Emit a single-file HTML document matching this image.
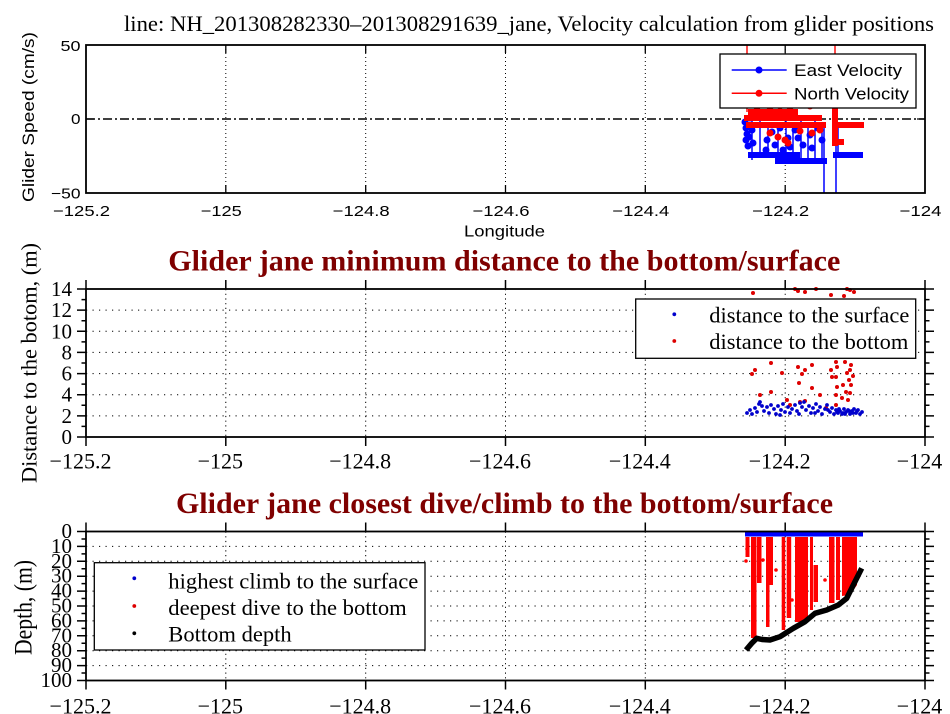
<!DOCTYPE html>
<html><head><meta charset="utf-8"><style>html,body{margin:0;padding:0;background:#fff}svg{display:block}</style></head>
<body>
<svg xmlns="http://www.w3.org/2000/svg" width="950" height="714" viewBox="0 0 950 714">
<rect width="950" height="714" fill="#fff"/>
<text x="124" y="31" font-family="Liberation Serif, serif" font-size="22" textLength="810" lengthAdjust="spacingAndGlyphs">line: NH_201308282330–201308291639_jane, Velocity calculation from glider positions</text>

<!-- ============ TOP PANEL ============ -->
<g stroke="#000" stroke-width="1" stroke-dasharray="1,3" fill="none">
<path d="M225.8 45V193M365.7 45V193M505.5 45V193M645.3 45V193M785.2 45V193"/>
</g>
<line x1="86" y1="119" x2="925" y2="119" stroke="#000" stroke-width="1.5" stroke-dasharray="9,3,2,3"/>
<!-- blue data -->
<g stroke="#0000ff" fill="#0000ff">
<path d="M748 155H800M775 161H827M833 155H863" stroke-width="6" fill="none"/>
<path d="M752 120V160M760 120V158M768 125V158M778 122V162M786 120V162M793 125V162M801 118V162M808 122V162M815 120V162M822 125V162M824 125V193M836 110V193M838 125V155" stroke-width="1.5" fill="none"/>
<g stroke="none">
<circle cx="745" cy="122" r="3.5"/><circle cx="746" cy="128" r="3.5"/><circle cx="747" cy="134" r="3.5"/><circle cx="746" cy="140" r="3.5"/><circle cx="748" cy="146" r="3.5"/><circle cx="750" cy="125" r="3.5"/><circle cx="749" cy="137" r="3.5"/><circle cx="752" cy="130" r="3.5"/><circle cx="753" cy="143" r="3.5"/><circle cx="767" cy="140" r="3.5"/><circle cx="772" cy="132" r="3.5"/><circle cx="780" cy="128" r="3.5"/><circle cx="788" cy="138" r="3.5"/><circle cx="795" cy="130" r="3.5"/><circle cx="803" cy="145" r="3.5"/><circle cx="810" cy="135" r="3.5"/><circle cx="818" cy="128" r="3.5"/><circle cx="822" cy="140" r="3.5"/><circle cx="790" cy="147" r="3.5"/><circle cx="775" cy="145" r="3.5"/><circle cx="798" cy="138" r="3.5"/><circle cx="766" cy="150" r="3.5"/><circle cx="783" cy="150" r="3.5"/><circle cx="812" cy="148" r="3.5"/>
</g>
</g>
<!-- red data -->
<g stroke="#ff0000" fill="#ff0000">
<path d="M748 112H798M744 118H822M746 125H826M836 125H864M833 142H844" stroke-width="6" fill="none"/>
<path d="M835 45V145M747 45V112" stroke-width="1.4" fill="none"/>
<path d="M835 108V146" stroke-width="6" fill="none"/>
<g stroke="none">
<circle cx="780" cy="106" r="3.5"/><circle cx="790" cy="107" r="3.5"/><circle cx="770" cy="107" r="3.5"/><circle cx="810" cy="106" r="3.5"/><circle cx="757" cy="107" r="3.5"/><circle cx="778" cy="137" r="3.5"/><circle cx="785" cy="140" r="3.5"/><circle cx="770" cy="133" r="3.5"/><circle cx="800" cy="131" r="3.5"/><circle cx="812" cy="133" r="3.5"/><circle cx="820" cy="130" r="3.5"/><circle cx="788" cy="143" r="3.5"/>
</g>
</g>
<!-- legend top -->
<rect x="720" y="54" width="196" height="54" fill="#fff" stroke="#000" stroke-width="1.3"/>
<path d="M731.7 70H786.7" stroke="#0000ff" stroke-width="1.5"/><circle cx="759" cy="70" r="3.5" fill="#0000ff"/>
<path d="M731.7 93.3H786.7" stroke="#ff0000" stroke-width="1.5"/><circle cx="759" cy="93.3" r="3.5" fill="#ff0000"/>
<g font-family="Liberation Sans, sans-serif" font-size="17">
<text x="794" y="76" textLength="108" lengthAdjust="spacingAndGlyphs">East Velocity</text>
<text x="794" y="99.5" textLength="115" lengthAdjust="spacingAndGlyphs">North Velocity</text>
</g>
<!-- axes -->
<rect x="86" y="45" width="839" height="148" fill="none" stroke="#000" stroke-width="1.8"/>
<path d="M225.8 45V53M365.7 45V53M505.5 45V53M645.3 45V53M785.2 45V53M225.8 193V185M365.7 193V185M505.5 193V185M645.3 193V185M785.2 193V185M86 119H94M925 119H917" stroke="#000" stroke-width="1.3"/>
<g font-family="Liberation Sans, sans-serif" font-size="15" text-anchor="end">
<text x="80.5" y="51" textLength="20" lengthAdjust="spacingAndGlyphs">50</text>
<text x="80.5" y="124" textLength="9.5" lengthAdjust="spacingAndGlyphs">0</text>
<text x="80.5" y="198.5" textLength="29.5" lengthAdjust="spacingAndGlyphs">−50</text>
</g>
<g font-family="Liberation Sans, sans-serif" font-size="15" text-anchor="middle">
<text x="81.5" y="216" textLength="57" lengthAdjust="spacingAndGlyphs">−125.2</text>
<text x="221.3" y="216" textLength="41" lengthAdjust="spacingAndGlyphs">−125</text>
<text x="361.2" y="216" textLength="57" lengthAdjust="spacingAndGlyphs">−124.8</text>
<text x="501" y="216" textLength="57" lengthAdjust="spacingAndGlyphs">−124.6</text>
<text x="640.8" y="216" textLength="57" lengthAdjust="spacingAndGlyphs">−124.4</text>
<text x="780.7" y="216" textLength="57" lengthAdjust="spacingAndGlyphs">−124.2</text>
<text x="920.5" y="216" textLength="42" lengthAdjust="spacingAndGlyphs">−124</text>
<text x="504.5" y="236.7" font-size="16" textLength="81" lengthAdjust="spacingAndGlyphs">Longitude</text>
</g>
<text transform="translate(34,117) rotate(-90)" text-anchor="middle" font-family="Liberation Sans, sans-serif" font-size="17" textLength="170" lengthAdjust="spacingAndGlyphs">Glider Speed (cm/s)</text>

<!-- ============ MIDDLE PANEL ============ -->
<text x="168.3" y="270.5" font-family="Liberation Serif, serif" font-size="30" font-weight="bold" fill="#7f0000" textLength="672" lengthAdjust="spacingAndGlyphs">Glider jane minimum distance to the bottom/surface</text>
<g stroke="#000" stroke-width="1" fill="none">
<path d="M86 415.86H925M86 394.71H925M86 373.57H925M86 352.43H925M86 331.29H925M86 310.14H925" stroke-dasharray="1.2,5.3"/>
<path d="M225.8 289V437M365.7 289V437M505.5 289V437M645.3 289V437M785.2 289V437" stroke-dasharray="1.2,3.5"/>
</g>
<!-- red dots -->
<g fill="#dd0000">
<circle cx="753" cy="293" r="2"/><circle cx="798" cy="291" r="2"/><circle cx="805" cy="292" r="2"/><circle cx="816" cy="289" r="2"/><circle cx="831" cy="295" r="2"/><circle cx="844" cy="296" r="2"/><circle cx="847" cy="289" r="2"/><circle cx="850" cy="290" r="2"/><circle cx="854" cy="292" r="2"/><circle cx="795" cy="289" r="2"/>
<circle cx="752" cy="374" r="2"/><circle cx="755" cy="370" r="2"/><circle cx="771" cy="363" r="2"/><circle cx="782" cy="373" r="2"/><circle cx="771" cy="392" r="2"/><circle cx="798" cy="367" r="2"/><circle cx="802" cy="374" r="2"/><circle cx="805" cy="370" r="2"/><circle cx="812" cy="365" r="2"/><circle cx="799" cy="383" r="2"/><circle cx="812" cy="388" r="2"/><circle cx="800" cy="402" r="2"/><circle cx="805" cy="401" r="2"/><circle cx="820" cy="395" r="2"/>
<circle cx="836" cy="362" r="2"/><circle cx="837" cy="367" r="2"/><circle cx="836" cy="377" r="2"/><circle cx="837" cy="387" r="2"/><circle cx="836" cy="395" r="2"/><circle cx="843" cy="385" r="2"/><circle cx="847" cy="373" r="2"/><circle cx="850" cy="370" r="2"/><circle cx="851" cy="365" r="2"/><circle cx="850" cy="393" r="2"/><circle cx="848" cy="400" r="2"/><circle cx="831" cy="370" r="2"/><circle cx="832" cy="377" r="2"/><circle cx="845" cy="362" r="2"/><circle cx="849" cy="380" r="2"/><circle cx="851" cy="385" r="2"/><circle cx="846" cy="392" r="2"/><circle cx="836" cy="405" r="2"/><circle cx="826" cy="408" r="2"/><circle cx="790" cy="405" r="2"/><circle cx="760" cy="395" r="2"/><circle cx="787" cy="400" r="2"/><circle cx="842" cy="398" r="2"/><circle cx="853" cy="376" r="2"/>
</g>
<!-- blue dots -->
<g fill="#0000cc">
<circle cx="747" cy="413" r="1.9"/><circle cx="750" cy="410" r="1.9"/><circle cx="752" cy="414" r="1.9"/><circle cx="755" cy="408" r="1.9"/><circle cx="757" cy="412" r="1.9"/><circle cx="759" cy="404" r="1.9"/><circle cx="762" cy="406" r="1.9"/><circle cx="764" cy="411" r="1.9"/><circle cx="767" cy="407" r="1.9"/><circle cx="769" cy="413" r="1.9"/><circle cx="771" cy="405" r="1.9"/><circle cx="774" cy="409" r="1.9"/><circle cx="776" cy="414" r="1.9"/><circle cx="778" cy="406" r="1.9"/><circle cx="781" cy="410" r="1.9"/><circle cx="783" cy="404" r="1.9"/><circle cx="785" cy="412" r="1.9"/><circle cx="788" cy="407" r="1.9"/><circle cx="790" cy="413" r="1.9"/><circle cx="792" cy="409" r="1.9"/><circle cx="795" cy="405" r="1.9"/><circle cx="797" cy="411" r="1.9"/><circle cx="799" cy="414" r="1.9"/><circle cx="802" cy="407" r="1.9"/><circle cx="804" cy="402" r="1.9"/><circle cx="806" cy="410" r="1.9"/><circle cx="809" cy="406" r="1.9"/><circle cx="811" cy="413" r="1.9"/><circle cx="813" cy="408" r="1.9"/><circle cx="816" cy="404" r="1.9"/><circle cx="818" cy="411" r="1.9"/><circle cx="820" cy="407" r="1.9"/><circle cx="822" cy="414" r="1.9"/><circle cx="825" cy="409" r="1.9"/><circle cx="827" cy="405" r="1.9"/><circle cx="830" cy="412" r="1.9"/><circle cx="832" cy="408" r="1.9"/><circle cx="834" cy="414" r="1.9"/><circle cx="836" cy="410" r="1.9"/><circle cx="838" cy="413" r="1.9"/><circle cx="840" cy="411" r="1.9"/><circle cx="842" cy="414" r="1.9"/><circle cx="844" cy="409" r="1.9"/><circle cx="846" cy="412" r="1.9"/><circle cx="848" cy="410" r="1.9"/><circle cx="850" cy="414" r="1.9"/><circle cx="852" cy="411" r="1.9"/><circle cx="854" cy="409" r="1.9"/><circle cx="856" cy="413" r="1.9"/><circle cx="858" cy="410" r="1.9"/><circle cx="860" cy="414" r="1.9"/><circle cx="862" cy="412" r="1.9"/><circle cx="760" cy="402" r="1.9"/><circle cx="780" cy="415" r="1.9"/><circle cx="800" cy="403" r="1.9"/><circle cx="815" cy="413" r="1.9"/><circle cx="828" cy="410" r="1.9"/><circle cx="843" cy="413" r="1.9"/><circle cx="849" cy="411" r="1.9"/><circle cx="853" cy="413" r="1.9"/><circle cx="857" cy="411" r="1.9"/><circle cx="837" cy="412" r="1.9"/><circle cx="839" cy="409" r="1.9"/><circle cx="845" cy="414" r="1.9"/>
</g>
<!-- legend middle -->
<rect x="635.7" y="299" width="280" height="59.3" fill="#fff" stroke="#000" stroke-width="1.3"/>
<circle cx="674.3" cy="314.3" r="1.9" fill="#0000cc"/>
<circle cx="674.3" cy="341" r="1.9" fill="#dd0000"/>
<g font-family="Liberation Serif, serif" font-size="22">
<text x="709.3" y="322.5" textLength="200" lengthAdjust="spacingAndGlyphs">distance to the surface</text>
<text x="709.3" y="349" textLength="199" lengthAdjust="spacingAndGlyphs">distance to the bottom</text>
</g>
<!-- axes -->
<rect x="86" y="289" width="839" height="148" fill="none" stroke="#000" stroke-width="1.8"/>
<g stroke="#000" stroke-width="1.5">
<path d="M77 437H86M77 415.86H86M77 394.71H86M77 373.57H86M77 352.43H86M77 331.29H86M77 310.14H86M77 289H86M81.5 426.43H86M81.5 405.29H86M81.5 384.14H86M81.5 363H86M81.5 341.86H86M81.5 320.71H86M81.5 299.57H86"/>
<path d="M925 437H934M925 415.86H934M925 394.71H934M925 373.57H934M925 352.43H934M925 331.29H934M925 310.14H934M925 289H934M925 426.43H929.5M925 405.29H929.5M925 384.14H929.5M925 363H929.5M925 341.86H929.5M925 320.71H929.5M925 299.57H929.5"/>
<path d="M86 280V289M225.8 280V289M365.7 280V289M505.5 280V289M645.3 280V289M785.2 280V289M925 280V289M86 437V446M225.8 437V446M365.7 437V446M505.5 437V446M645.3 437V446M785.2 437V446M925 437V446"/>
</g>
<g font-family="Liberation Serif, serif" font-size="21" text-anchor="end">
<text x="72" y="444">0</text><text x="72" y="422.9">2</text><text x="72" y="401.7">4</text><text x="72" y="380.6">6</text><text x="72" y="359.4">8</text><text x="72" y="338.3">10</text><text x="72" y="317.1">12</text><text x="72" y="296">14</text>
</g>
<g font-family="Liberation Serif, serif" font-size="22" text-anchor="middle">
<text x="80.5" y="468.5">−125.2</text><text x="220.3" y="468.5">−125</text><text x="360.2" y="468.5">−124.8</text><text x="500" y="468.5">−124.6</text><text x="639.8" y="468.5">−124.4</text><text x="779.7" y="468.5">−124.2</text><text x="919.5" y="468.5">−124</text>
</g>
<text transform="translate(36.5,363) rotate(-90)" text-anchor="middle" font-family="Liberation Serif, serif" font-size="22" textLength="240" lengthAdjust="spacingAndGlyphs">Distance to the botom, (m)</text>

<!-- ============ BOTTOM PANEL ============ -->
<text x="176" y="513" font-family="Liberation Serif, serif" font-size="30" font-weight="bold" fill="#7f0000" textLength="657" lengthAdjust="spacingAndGlyphs">Glider jane closest dive/climb to the bottom/surface</text>
<g stroke="#000" stroke-width="1" fill="none">
<path d="M86 546.4H925M86 561.3H925M86 576.2H925M86 591.1H925M86 606H925M86 620.9H925M86 635.8H925M86 650.7H925M86 665.6H925" stroke-dasharray="1.2,5.3"/>
<path d="M225.8 531.5V680.5M365.7 531.5V680.5M505.5 531.5V680.5M645.3 531.5V680.5M785.2 531.5V680.5" stroke-dasharray="1.2,3.5"/>
</g>
<!-- red columns -->
<g fill="#ff0000">
<rect x="745.5" y="537" width="4" height="20"/>
<rect x="751" y="537" width="5.5" height="101"/>
<rect x="757" y="537" width="4.5" height="46"/>
<rect x="766" y="537" width="3.5" height="90"/>
<rect x="769.5" y="537" width="3.5" height="48"/>
<rect x="781.7" y="537" width="3.5" height="93"/>
<rect x="786.7" y="537" width="4.5" height="81"/>
<rect x="795" y="537" width="13" height="85"/>
<rect x="810" y="537" width="3" height="73"/>
<rect x="813.5" y="565" width="4.5" height="37"/>
<rect x="829" y="537" width="5.5" height="66"/>
<rect x="836" y="537" width="4" height="63"/>
<polygon points="842,537 857,537 857,585 850,595 842,596"/>
<circle cx="746" cy="561" r="1.8"/><circle cx="747" cy="549" r="1.8"/><circle cx="763" cy="560" r="1.8"/><circle cx="776" cy="570" r="1.8"/><circle cx="792" cy="600" r="1.8"/><circle cx="825" cy="580" r="1.8"/>
</g>
<rect x="745" y="532" width="118" height="4.5" fill="#0000ff"/>
<polyline points="746,650 751.7,643.3 756.7,638.3 762,639.5 770,640 780,636.7 793.3,628.3 805,621.7 815,613.3 826.7,610 838.3,605 846.7,598.3 853.3,585 861.7,568.3" fill="none" stroke="#000" stroke-width="5.5" stroke-linejoin="round"/>
<!-- legend bottom -->
<rect x="94.3" y="562.7" width="330.7" height="87.3" fill="#fff" stroke="#000" stroke-width="1.3"/>
<circle cx="134.3" cy="578.3" r="1.9" fill="#0000cc"/>
<circle cx="134.3" cy="606" r="1.9" fill="#dd0000"/>
<circle cx="134.3" cy="633.3" r="1.9" fill="#000"/>
<g font-family="Liberation Serif, serif" font-size="22">
<text x="168.3" y="588.3" textLength="250" lengthAdjust="spacingAndGlyphs">highest climb to the surface</text>
<text x="168.3" y="615" textLength="238.4" lengthAdjust="spacingAndGlyphs">deepest dive to the bottom</text>
<text x="168.3" y="641.7" textLength="123.4" lengthAdjust="spacingAndGlyphs">Bottom depth</text>
</g>
<!-- axes -->
<rect x="86" y="531.5" width="839" height="149" fill="none" stroke="#000" stroke-width="1.8"/>
<g stroke="#000" stroke-width="1.5">
<path d="M77 531.5H86M77 546.4H86M77 561.3H86M77 576.2H86M77 591.1H86M77 606H86M77 620.9H86M77 635.8H86M77 650.7H86M77 665.6H86M77 680.5H86M81.5 538.95H86M81.5 553.85H86M81.5 568.75H86M81.5 583.65H86M81.5 598.55H86M81.5 613.45H86M81.5 628.35H86M81.5 643.25H86M81.5 658.15H86M81.5 673.05H86"/>
<path d="M925 531.5H934M925 546.4H934M925 561.3H934M925 576.2H934M925 591.1H934M925 606H934M925 620.9H934M925 635.8H934M925 650.7H934M925 665.6H934M925 680.5H934M925 538.95H929.5M925 553.85H929.5M925 568.75H929.5M925 583.65H929.5M925 598.55H929.5M925 613.45H929.5M925 628.35H929.5M925 643.25H929.5M925 658.15H929.5M925 673.05H929.5"/>
<path d="M86 522.5V531.5M225.8 522.5V531.5M365.7 522.5V531.5M505.5 522.5V531.5M645.3 522.5V531.5M785.2 522.5V531.5M925 522.5V531.5M86 680.5V689.5M225.8 680.5V689.5M365.7 680.5V689.5M505.5 680.5V689.5M645.3 680.5V689.5M785.2 680.5V689.5M925 680.5V689.5"/>
</g>
<g font-family="Liberation Serif, serif" font-size="21" text-anchor="end">
<text x="72" y="538">0</text><text x="72" y="552.9">10</text><text x="72" y="567.8">20</text><text x="72" y="582.7">30</text><text x="72" y="597.6">40</text><text x="72" y="612.5">50</text><text x="72" y="627.4">60</text><text x="72" y="642.3">70</text><text x="72" y="657.2">80</text><text x="72" y="672.1">90</text><text x="72" y="687">100</text>
</g>
<g font-family="Liberation Serif, serif" font-size="22" text-anchor="middle">
<text x="80.5" y="713.5">−125.2</text><text x="220.3" y="713.5">−125</text><text x="360.2" y="713.5">−124.8</text><text x="500" y="713.5">−124.6</text><text x="639.8" y="713.5">−124.4</text><text x="779.7" y="713.5">−124.2</text><text x="919.5" y="713.5">−124</text>
</g>
<text transform="translate(31.5,607.5) rotate(-90)" text-anchor="middle" font-family="Liberation Serif, serif" font-size="25" textLength="95" lengthAdjust="spacingAndGlyphs">Depth, (m)</text>
</svg>
</body></html>
